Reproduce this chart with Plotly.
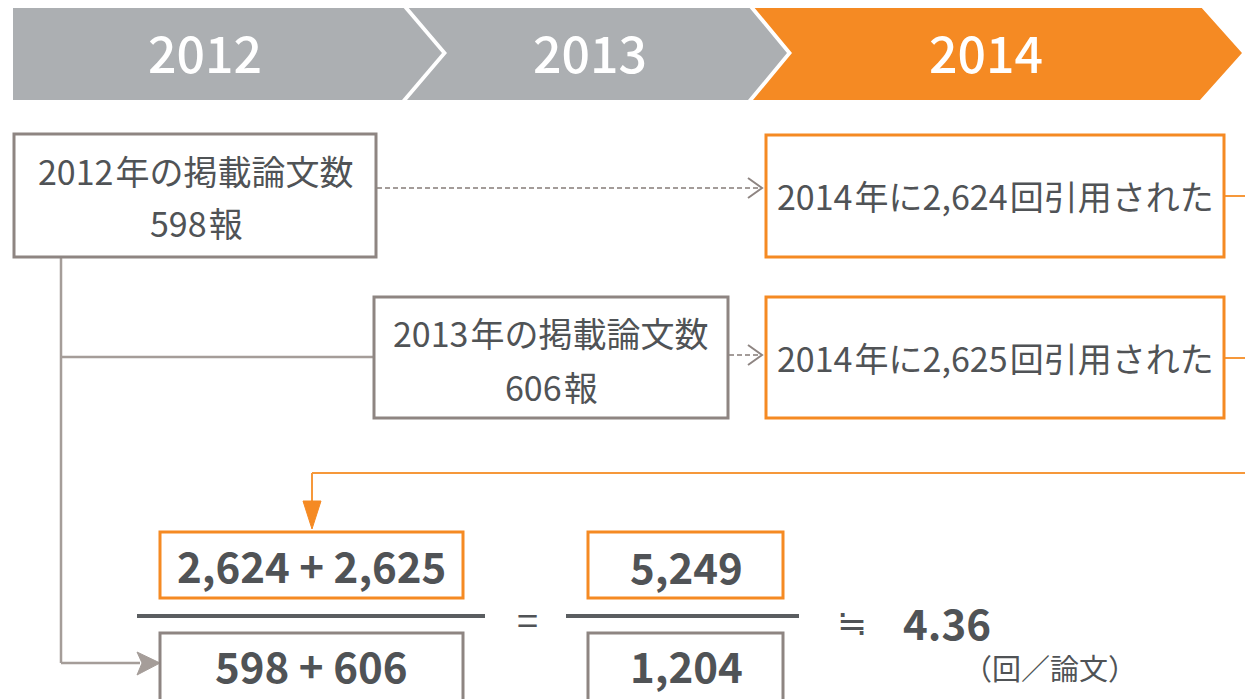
import plotly.graph_objects as go

# ---- data ----
years = [2012, 2013, 2014]
papers = [598, 606]            # papers published in 2012, 2013
citations = [2624, 2625]       # citations received in 2014
unit_label = "（回／論文）"

total_cit = sum(citations)
total_pap = sum(papers)
ratio = total_cit / total_pap

# ---- style ----
GRAY_HDR = "#ACAFB2"
ORANGE = "#F58A23"
ORANGE_LN = "#F6983A"
BOX_GRAY = "#8E8582"
CONN_GRAY = "#A59D99"
TXT = "#505356"
FONT = "Noto Sans CJK JP"
W, H = 1253, 699
OFF = 8  # page body margin
TS = "\u200a"  # hair space

fig = go.Figure()
fig.update_layout(
    width=W - OFF, height=H - OFF, margin=dict(l=0, r=0, t=0, b=0),
    paper_bgcolor="white", plot_bgcolor="white", showlegend=False,
    xaxis=dict(range=[OFF, W], visible=False, fixedrange=True),
    yaxis=dict(range=[H, OFF], visible=False, fixedrange=True),
)

shapes = []
ann = []

def path(d, fill=None, color=None, width=0, dash=None):
    s = dict(type="path", path=d, xref="x", yref="y",
             line=dict(color=color or "rgba(0,0,0,0)", width=width))
    if dash:
        s["line"]["dash"] = dash
    if fill:
        s["fillcolor"] = fill
    shapes.append(s)

def rect(x0, y0, x1, y1, color, width=3):
    shapes.append(dict(type="rect", xref="x", yref="y", x0=x0, y0=y0, x1=x1, y1=y1,
                       line=dict(color=color, width=width), fillcolor="white"))

def line(x0, y0, x1, y1, color, width=2, dash=None):
    d = dict(color=color, width=width)
    if dash:
        d["dash"] = dash
    shapes.append(dict(type="line", xref="x", yref="y", x0=x0, y0=y0, x1=x1, y1=y1, line=d))

def text(x, y, t, size, color=TXT, weight=400, xanchor="center"):
    ann.append(dict(x=x, y=y, xref="x", yref="y", text=t, showarrow=False,
                    xanchor=xanchor, yanchor="middle",
                    font=dict(family=FONT, size=size, color=color, weight=weight)))

# ---- header chevrons ----
path("M13,6 L402,6 L442,53 L402,100 L13,100 Z", fill=GRAY_HDR)
path("M407,6 L748,6 L787,53 L748,100 L407,100 L447,53 Z", fill=GRAY_HDR)
path("M753,6 L1200,6 L1242,53 L1200,100 L753,100 L792,53 Z", fill=ORANGE)
hdr_x = [205, 590, 986]
for xc, yr in zip(hdr_x, years):
    text(xc, 51, str(yr), 50, color="white", weight=500)

# ---- connectors (drawn first, under boxes) ----
line(61, 257, 61, 663, CONN_GRAY, 2.5)
line(61, 357, 374, 357, CONN_GRAY, 2.5)
line(61, 663, 140, 663, CONN_GRAY, 2.5)
path("M137,652 L160,663 L137,675 L142,663 Z", fill=CONN_GRAY, color=CONN_GRAY, width=1)
line(1224, 196, W, 196, ORANGE_LN, 2)
line(1224, 358, W, 358, ORANGE_LN, 2)
line(W, 473, 312, 473, ORANGE_LN, 2)
line(312, 473, 312, 505, ORANGE_LN, 2)
path("M303,501 L321,501 L312,529 Z", fill=ORANGE, color=ORANGE, width=1)
line(377, 188, 762, 188, "#A39C99", 2, dash="5px,3px")
path("M748,178 L762,188 L748,198", color="#8E8582", width=2)
line(729, 355, 762, 355, "#A39C99", 2, dash="5px,3px")
path("M748,345 L762,355 L748,365", color="#8E8582", width=2)

# ---- boxes ----
rect(14, 134, 376, 257, BOX_GRAY)
text(196, 170, f"{years[0]}{TS}年の掲載論文数", 34)
text(196, 222, f"{papers[0]}{TS}報", 34)

rect(374, 297, 728, 418, BOX_GRAY)
text(551, 332, f"{years[1]}{TS}年の掲載論文数", 34)
text(551, 386, f"{papers[1]}{TS}報", 34)

rect(766, 135, 1224, 257, ORANGE)
text(995, 195, f"{years[2]}{TS}年に{citations[0]:,}{TS}回引用された", 34)
rect(766, 297, 1224, 418, ORANGE)
text(995, 357, f"{years[2]}{TS}年に{citations[1]:,}{TS}回引用された", 34)

# ---- formula ----
rect(160, 532, 463, 598, ORANGE)
text(311, 564, f"{citations[0]:,} + {citations[1]:,}", 42, weight=600)
line(137, 616, 485, 616, "#5A5D60", 4)
rect(160, 633, 463, 715, BOX_GRAY)
text(311, 664, f"{papers[0]} + {papers[1]}", 42, weight=600)

text(527, 618, "=", 38)

rect(588, 532, 783, 598, ORANGE)
text(686, 565, f"{total_cit:,}", 42, weight=600)
line(566, 616, 799, 616, "#5A5D60", 4)
rect(588, 633, 783, 715, BOX_GRAY)
text(686, 664, f"{total_pap:,}", 42, weight=600)

text(852, 620, "≒", 36)
text(947, 621, f"{ratio:.2f}", 42, weight=600)
text(1050, 667, unit_label, 29)

fig.update_layout(shapes=shapes, annotations=ann)
fig.write_html("out.html")
